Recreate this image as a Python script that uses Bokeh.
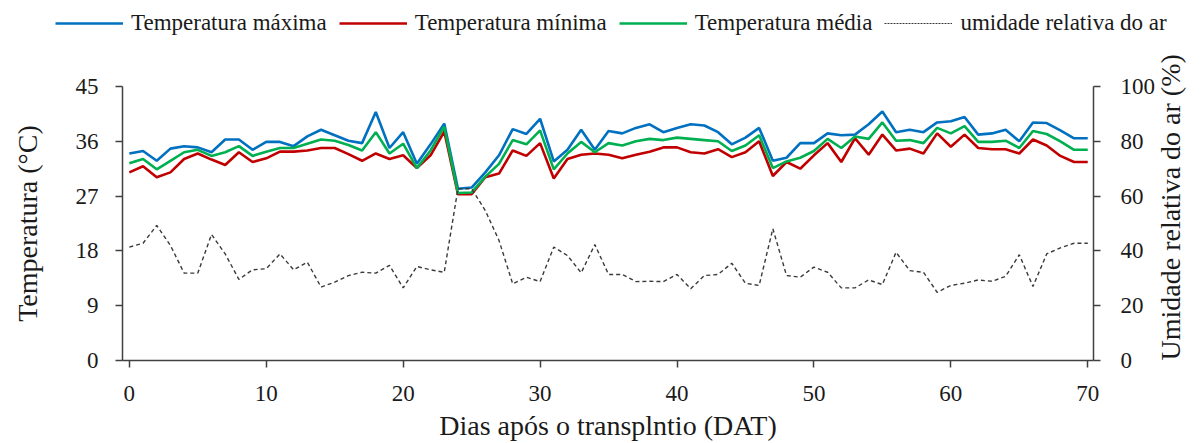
import math
from bokeh.plotting import figure
from bokeh.layouts import column
from bokeh.models import Range1d, LinearAxis, FixedTicker, Legend, LegendItem
from bokeh.embed import file_html
from bokeh.resources import INLINE

days = list(range(71))

tmax = [34.0, 34.4, 32.8, 34.8, 35.2, 35.0, 34.2, 36.3, 36.3, 34.6,
        35.9, 35.9, 35.2, 36.8, 37.9, 37.0, 36.1, 35.7, 40.8, 34.9,
        37.5, 32.3, 35.5, 38.9, 28.2, 28.4, 30.9, 33.7, 38.0, 37.2,
        39.7, 32.7, 34.6, 37.9, 34.6, 37.7, 37.3, 38.2, 38.8, 37.5,
        38.2, 38.8, 38.6, 37.5, 35.5, 36.6, 38.2, 32.8, 33.3, 35.7,
        35.7, 37.3, 37.0, 37.1, 38.8, 40.9, 37.5, 37.9, 37.5, 39.1,
        39.3, 40.0, 37.1, 37.3, 37.9, 36.0, 39.1, 39.0, 37.8, 36.5,
        36.5]

tmin = [30.9, 31.9, 30.1, 30.9, 33.1, 34.0, 33.0, 32.1, 34.2, 32.6,
        33.2, 34.3, 34.3, 34.5, 34.9, 34.9, 33.9, 32.8, 34.0, 33.1,
        33.7, 31.6, 33.7, 37.6, 27.3, 27.3, 30.1, 30.7, 34.5, 33.6,
        35.7, 29.9, 33.1, 33.8, 34.0, 33.8, 33.2, 33.8, 34.3, 35.0,
        35.0, 34.2, 34.0, 34.7, 33.4, 34.2, 36.0, 30.3, 32.6, 31.5,
        33.7, 35.7, 32.6, 36.5, 33.8, 37.1, 34.5, 34.8, 34.0, 37.3,
        35.1, 37.1, 34.9, 34.7, 34.7, 34.0, 36.3, 35.3, 33.6, 32.6,
        32.6]

tmed = [32.4, 33.1, 31.4, 32.8, 34.2, 34.6, 33.6, 34.2, 35.2, 33.6,
        34.3, 34.9, 34.9, 35.6, 36.3, 36.1, 35.4, 34.5, 37.5, 34.0,
        35.6, 31.6, 34.5, 38.4, 27.5, 27.6, 30.2, 32.3, 36.2, 35.5,
        37.8, 31.4, 34.0, 35.9, 34.2, 35.7, 35.3, 36.0, 36.4, 36.2,
        36.6, 36.4, 36.2, 36.0, 34.4, 35.3, 37.0, 31.6, 32.7, 33.3,
        34.4, 36.4, 34.9, 36.8, 36.4, 39.1, 36.1, 36.2, 35.7, 38.2,
        37.3, 38.5, 35.9, 35.9, 36.1, 34.9, 37.7, 37.2, 36.0, 34.6,
        34.6]

rh = [41.4, 42.8, 49.3, 42.0, 31.9, 31.9, 46.0, 38.9, 29.6, 33.1,
      33.5, 38.9, 33.1, 35.9, 26.8, 28.6, 31.0, 32.2, 31.9, 34.7,
      26.5, 34.3, 33.1, 32.2, 62.7, 62.7, 54.7, 43.8, 28.0, 30.4,
      28.8, 41.4, 38.3, 32.0, 42.3, 31.4, 31.4, 28.8, 28.9, 28.8,
      31.4, 26.2, 31.0, 31.4, 35.5, 28.2, 27.4, 48.1, 31.0, 30.4,
      34.1, 32.2, 26.5, 26.5, 29.4, 27.7, 39.5, 32.8, 32.2, 24.9,
      27.4, 28.2, 29.4, 28.9, 30.7, 38.6, 27.0, 38.9, 41.1, 42.8,
      42.8]

x_ticks = [0, 10, 20, 30, 40, 50, 60, 70]
temp_ticks = [0, 9, 18, 27, 36, 45]
rh_ticks = [0, 20, 40, 60, 80, 100]

labels = ["Temperatura máxima", "Temperatura mínima", "Temperatura média",
          "umidade relativa do ar"]
x_title = "Dias após o transplntio (DAT)"
y_title = "Temperatura (°C)"
y2_title = "Umidade relativa do ar (%)"

FONT = "Liberation Serif"
TXT = "#1a1a1a"
AX = "#404040"
COLORS = ["#0070C0", "#C00000", "#00B050", "#3a3a3a"]

W = 1204
H = 443
TOP_H = 45

# ---------------- main chart ----------------
p = figure(width=W, height=H - TOP_H, output_backend="svg", toolbar_location=None,
           x_range=Range1d(-0.5, 70.42), y_range=Range1d(0, 45),
           min_border_left=122, min_border_right=106,
           min_border_top=86 - TOP_H, min_border_bottom=83)
p.extra_y_ranges = {"rh": Range1d(0, 100)}
p.outline_line_color = None
p.grid.visible = False

p.line(days, tmax, line_color=COLORS[0], line_width=2.6)
p.line(days, tmin, line_color=COLORS[1], line_width=2.6)
p.line(days, tmed, line_color=COLORS[2], line_width=2.6)
p.line(days, rh, line_color=COLORS[3], line_width=1.4, line_dash="4 3",
       y_range_name="rh")

ra = LinearAxis(y_range_name="rh")
p.add_layout(ra, "right")

def style(ax):
    ax.axis_line_color = AX
    ax.axis_line_width = 1.5
    ax.major_tick_line_color = AX
    ax.major_tick_line_width = 1.5
    ax.major_tick_in = 0
    ax.major_tick_out = 7
    ax.minor_tick_line_color = None
    ax.major_label_text_font = FONT
    ax.major_label_text_font_size = "23px"
    ax.major_label_text_color = TXT
    ax.axis_label_text_font = FONT
    ax.axis_label_text_font_size = "28px"
    ax.axis_label_text_font_style = "normal"
    ax.axis_label_text_color = TXT

xa = p.xaxis[0]
ya = p.yaxis[0]
for ax in (xa, ya, ra):
    style(ax)

xa.ticker = FixedTicker(ticks=x_ticks)
xa.major_label_standoff = 18
xa.axis_label = x_title
xa.axis_label_standoff = 6
ya.ticker = FixedTicker(ticks=temp_ticks)
ya.major_label_standoff = 17
ya.axis_label = y_title
ya.axis_label_standoff = 30
ra.ticker = FixedTicker(ticks=rh_ticks)
ra.major_label_standoff = 20
ra.axis_label = y2_title
ra.axis_label_standoff = 12
props = ra.properties()
if "axis_label_orientation" in props and "axis_label_align" in props:
    ra.axis_label_orientation = math.pi / 2
    ra.axis_label_align = "start"

# ---------------- legend strip ----------------
lg = figure(width=W, height=TOP_H, output_backend="svg", toolbar_location=None,
            x_axis_location=None, y_axis_location=None,
            x_range=Range1d(0, 1), y_range=Range1d(0, 1),
            min_border_left=0, min_border_right=0,
            min_border_top=0, min_border_bottom=0)
lg.outline_line_color = None
lg.grid.visible = False
legend_x = -67
if "frame_align" in lg.properties():
    lg.frame_align = False
    p.frame_align = False
    legend_x = 55

off = [5, 6]
g1 = lg.line(off, off, line_color=COLORS[0], line_width=2.6)
g2 = lg.line(off, off, line_color=COLORS[1], line_width=2.6)
g3 = lg.line(off, off, line_color=COLORS[2], line_width=2.6)
g4 = lg.line(off, off, line_color=COLORS[3], line_width=1.2, line_dash="2 1")

legend = Legend(items=[LegendItem(label=labels[0], renderers=[g1]),
                       LegendItem(label=labels[1], renderers=[g2]),
                       LegendItem(label=labels[2], renderers=[g3]),
                       LegendItem(label=labels[3], renderers=[g4])],
                orientation="horizontal", location=(legend_x, 9))
legend.border_line_color = None
legend.background_fill_alpha = 0
legend.padding = 0
legend.margin = 0
legend.spacing = 12
legend.label_standoff = 8
legend.glyph_width = 68
legend.glyph_height = 20
legend.label_text_font = FONT
legend.label_text_font_size = "23px"
legend.label_text_color = TXT
lg.add_layout(legend)

layout = column(lg, p, spacing=0)
open("out.html", "w").write(file_html(layout, INLINE))
